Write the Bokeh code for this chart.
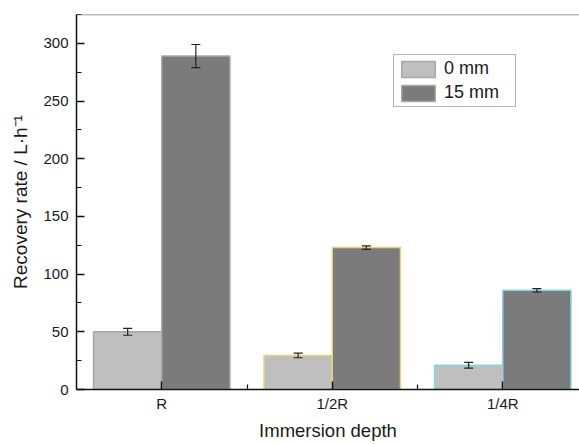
from bokeh.plotting import figure
from bokeh.models import ColumnDataSource, Whisker, TeeHead, FixedTicker, SingleIntervalTicker, Range1d, Span
from bokeh.transform import dodge
from bokeh.embed import file_html
from bokeh.resources import INLINE

categories = ["R", "1/2R", "1/4R"]
rate_0mm = [50, 29.5, 21]
err_0mm = [3, 2, 2.5]
rate_15mm = [289, 123, 86]
err_15mm = [10, 1.5, 1.5]
edge_colors = ["#a8a8a8", "#e6d27a", "#86d4e2"]
series_labels = ["0 mm", "15 mm"]

x = list(range(len(categories)))
src = ColumnDataSource(dict(
    x=x,
    v0=rate_0mm, v15=rate_15mm,
    up0=[v + e for v, e in zip(rate_0mm, err_0mm)],
    lo0=[v - e for v, e in zip(rate_0mm, err_0mm)],
    up15=[v + e for v, e in zip(rate_15mm, err_15mm)],
    lo15=[v - e for v, e in zip(rate_15mm, err_15mm)],
    edge=edge_colors,
))

FONT = "Liberation Sans"

p = figure(width=579, height=444, output_backend="svg", toolbar_location=None,
           x_range=Range1d(-0.5, 2.45), y_range=Range1d(0, 325),
           min_border_left=76, min_border_right=0, min_border_top=14, min_border_bottom=55)
p.outline_line_color = None
p.xgrid.visible = False
p.ygrid.visible = False
p.background_fill_color = "white"
p.border_fill_color = "white"

p.vbar(x=dodge("x", -0.2, range=p.x_range), top="v0", width=0.4, source=src,
       fill_color="#bfbfbf", line_color="edge", line_width=1.5, legend_label=series_labels[0])
p.vbar(x=dodge("x", 0.2, range=p.x_range), top="v15", width=0.4, source=src,
       fill_color="#7b7b7b", line_color="edge", line_width=1.5, legend_label=series_labels[1])

for off, up, lo in [(-0.2, "up0", "lo0"), (0.2, "up15", "lo15")]:
    w = Whisker(base=dodge("x", off, range=p.x_range), upper=up, lower=lo, source=src,
                level="overlay", line_color="#222222", line_width=1.2,
                upper_head=TeeHead(size=9, line_color="#222222", line_width=1.2),
                lower_head=TeeHead(size=9, line_color="#222222", line_width=1.2))
    p.add_layout(w)

top_line = Span(location=325, dimension="width", line_color="#777777", line_width=1.5)
p.add_layout(top_line)

# axes
for ax in (p.xaxis[0], p.yaxis[0]):
    ax.axis_line_color = "#111111"
    ax.axis_line_width = 1.5
    ax.major_tick_line_color = "#111111"
    ax.minor_tick_line_color = "#111111"
    ax.major_tick_line_width = 1.5
    ax.minor_tick_line_width = 1.2
    ax.major_tick_in = 8
    ax.major_tick_out = 0
    ax.minor_tick_in = 5
    ax.minor_tick_out = 0
    ax.major_label_text_font = FONT
    ax.major_label_text_color = "#1a1a1a"
    ax.axis_label_text_font = FONT
    ax.axis_label_text_font_style = "normal"
    ax.axis_label_text_color = "#1a1a1a"

p.yaxis.ticker = SingleIntervalTicker(interval=50, num_minor_ticks=2)
p.yaxis.major_label_text_font_size = "15px"
p.yaxis.major_label_standoff = 8
p.yaxis.axis_label = "Recovery rate / L\u00b7h\u207b\u00b9"
p.yaxis.axis_label_text_font_size = "19px"
p.yaxis.axis_label_standoff = 9

p.xaxis.ticker = FixedTicker(ticks=x, minor_ticks=[0.5, 1.5])
p.xaxis.major_label_overrides = {i: c for i, c in zip(x, categories)}
p.xaxis.major_label_text_font_size = "15px"
p.xaxis.major_label_standoff = 5
p.xaxis.axis_label = "Immersion depth"
p.xaxis.axis_label_text_font_size = "18.5px"
p.xaxis.axis_label_standoff = 5

lg = p.legend[0]
lg.location = (317, 282)
lg.margin = 0
lg.padding = 3
lg.spacing = 3
lg.glyph_width = 42
lg.glyph_height = 20
lg.label_standoff = 5
lg.label_width = 68
lg.label_height = 20
lg.label_text_font = FONT
lg.label_text_font_size = "18px"
lg.label_text_color = "#1a1a1a"
lg.border_line_color = "#666666"
lg.border_line_width = 1
lg.background_fill_color = "white"
lg.background_fill_alpha = 1

open("out.html", "w").write(file_html(p, INLINE))
